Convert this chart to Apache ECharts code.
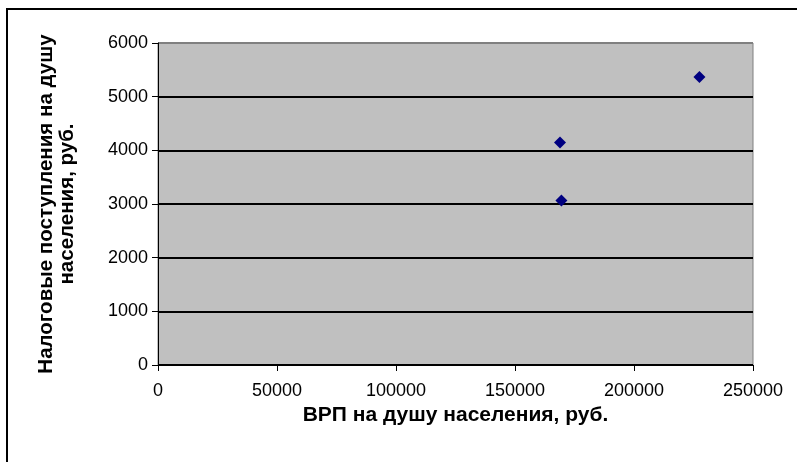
<!DOCTYPE html>
<html>
<head>
<meta charset="utf-8">
<script src="https://cdn.jsdelivr.net/npm/echarts@6/dist/echarts.min.js"></script>
<style>
html,body{margin:0;padding:0;background:#fff;}
#chart{width:797px;height:462px;}
</style>
</head>
<body>
<div id="chart"></div>
<script>
// Data
var xValues = [168900, 169500, 227500];   // ВРП на душу населения, руб.
var yValues = [4147, 3066, 5366];         // Налоговые поступления на душу населения, руб.
var xTicks = [0, 50000, 100000, 150000, 200000, 250000];
var yTicks = [0, 1000, 2000, 3000, 4000, 5000, 6000];
var xTitle = 'ВРП на душу населения, руб.';
var yTitle = 'Налоговые поступления на душу\nнаселения, руб.';

var points = xValues.map(function (x, i) { return [x, yValues[i]]; });
var FONT = 'Liberation Sans, Arial, sans-serif';
function plain(v) { return String(v); }

var chart = echarts.init(document.getElementById('chart'), null, {renderer: 'canvas'});
var splitColors = yTicks.map(function (t, i) { return i === yTicks.length - 1 ? '#808080' : '#000000'; });

chart.setOption({
  animation: false,
  backgroundColor: '#ffffff',
  graphic: [{
    type: 'rect',
    shape: {x: 7, y: 9, width: 820, height: 480},
    style: {fill: 'none', stroke: '#000', lineWidth: 2},
    silent: true
  }],
  grid: {
    left: 158, right: 44, top: 43, bottom: 97,
    show: true, backgroundColor: '#C0C0C0', borderColor: '#808080', borderWidth: 1
  },
  xAxis: {
    type: 'value',
    min: xTicks[0], max: xTicks[xTicks.length - 1], interval: xTicks[1] - xTicks[0],
    name: xTitle, nameLocation: 'middle', nameGap: 33,
    nameTextStyle: {fontFamily: FONT, fontSize: 21, fontWeight: 'bold', color: '#000'},
    axisLine: {lineStyle: {color: '#000', width: 1}},
    axisTick: {show: true, length: 6, lineStyle: {color: '#000'}},
    axisLabel: {fontFamily: FONT, fontSize: 18, color: '#000', margin: 17, formatter: plain},
    splitLine: {show: false}
  },
  yAxis: {
    type: 'value',
    min: yTicks[0], max: yTicks[yTicks.length - 1], interval: yTicks[1] - yTicks[0],
    name: yTitle, nameLocation: 'middle', nameGap: 80,
    nameTextStyle: {fontFamily: FONT, fontSize: 20.5, fontWeight: 'bold', color: '#000', lineHeight: 21, align: 'center'},
    axisLine: {show: true, lineStyle: {color: '#000', width: 1}},
    axisTick: {show: true, length: 6, lineStyle: {color: '#000'}},
    axisLabel: {fontFamily: FONT, fontSize: 18, color: '#000', margin: 10, formatter: plain},
    splitLine: {show: true, lineStyle: {color: splitColors, width: 2}}
  },
  series: [{
    type: 'scatter',
    data: points,
    symbol: 'diamond',
    symbolSize: 12,
    itemStyle: {color: '#000080', opacity: 1}
  }]
});
</script>
</body>
</html>
